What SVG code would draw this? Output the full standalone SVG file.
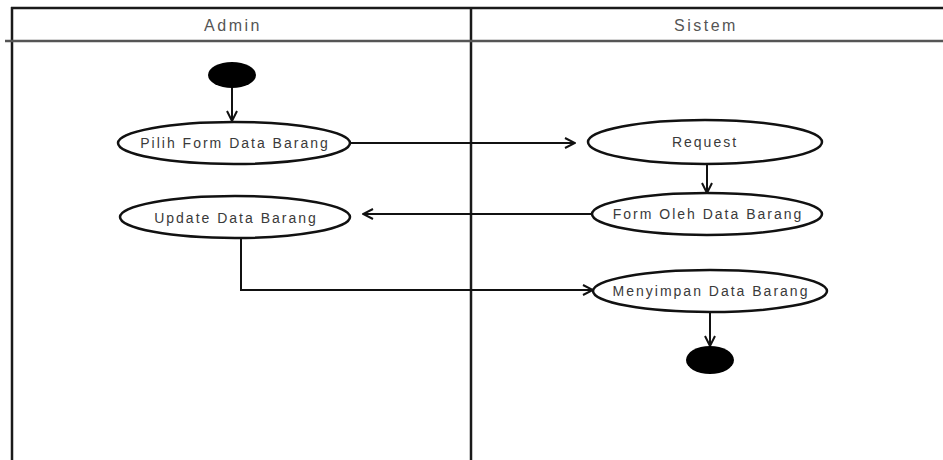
<svg xmlns="http://www.w3.org/2000/svg" width="943" height="460" viewBox="0 0 943 460">
  <style>
    .lane { stroke: #1a1a1a; stroke-width: 2.5; fill: none; }
    .hdr { stroke: #555; stroke-width: 2.5; fill: none; }
    .act { fill: #fff; stroke: #111; stroke-width: 2.5; }
    .dot { fill: #000; }
    .lbl { font-family: "Liberation Sans", Arial, sans-serif; font-size: 14px; letter-spacing: 2px; fill: #3a3a3a; text-anchor: middle; dominant-baseline: central; }
    .title { font-family: "Liberation Sans", Arial, sans-serif; font-size: 16px; letter-spacing: 2.5px; fill: #555; text-anchor: middle; dominant-baseline: central; }
    .flow { stroke: #111; stroke-width: 2; fill: none; marker-end: url(#open); }
  </style>
  <defs>
    <marker id="open" viewBox="0 0 12 12" refX="11" refY="6" markerWidth="12" markerHeight="12" markerUnits="userSpaceOnUse" orient="auto">
      <path d="M1,1 L11,6 L1,11" fill="none" stroke="#111" stroke-width="2"/>
    </marker>
  </defs>
  <rect width="943" height="460" fill="#fff"/>

  <!-- swimlanes -->
  <g id="lanes">
    <line class="lane" x1="11" y1="8" x2="943" y2="8"/>
    <line class="lane" x1="12" y1="7" x2="12" y2="460"/>
    <line class="lane" x1="471" y1="7" x2="471" y2="460" stroke="#201018"/>
    <line class="hdr" x1="5" y1="41" x2="943" y2="41"/>
    <text class="title" x="233" y="25">Admin</text>
    <text class="title" x="706" y="25">Sistem</text>
  </g>

  <!-- connectors -->
  <g id="connectors">
    <line class="flow" x1="232" y1="86" x2="232" y2="121"/>
    <line class="flow" x1="350" y1="143" x2="575" y2="143"/>
    <line class="flow" x1="707" y1="164" x2="707" y2="193"/>
    <line class="flow" x1="593" y1="214" x2="363" y2="214"/>
    <polyline class="flow" points="241,238 241,290 593,290"/>
    <line class="flow" x1="710" y1="312" x2="710" y2="346"/>
  </g>

  <g id="start">
    <ellipse class="dot" cx="232" cy="75" rx="24" ry="13"/>
  </g>
  <g id="pilih-form">
    <ellipse class="act" cx="234" cy="143" rx="116" ry="21"/>
    <text class="lbl" x="235" y="143">Pilih Form Data Barang</text>
  </g>
  <g id="update-data">
    <ellipse class="act" cx="235" cy="217" rx="115" ry="21"/>
    <text class="lbl" x="236" y="218">Update Data Barang</text>
  </g>
  <g id="request">
    <ellipse class="act" cx="705" cy="142" rx="117" ry="22"/>
    <text class="lbl" x="705" y="142">Request</text>
  </g>
  <g id="form-oleh">
    <ellipse class="act" cx="707" cy="214" rx="115" ry="21"/>
    <text class="lbl" x="708" y="214">Form Oleh Data Barang</text>
  </g>
  <g id="menyimpan">
    <ellipse class="act" cx="710" cy="291" rx="117" ry="21"/>
    <text class="lbl" x="711" y="291">Menyimpan Data Barang</text>
  </g>
  <g id="end">
    <ellipse class="dot" cx="710" cy="360" rx="24" ry="14"/>
  </g>
</svg>
